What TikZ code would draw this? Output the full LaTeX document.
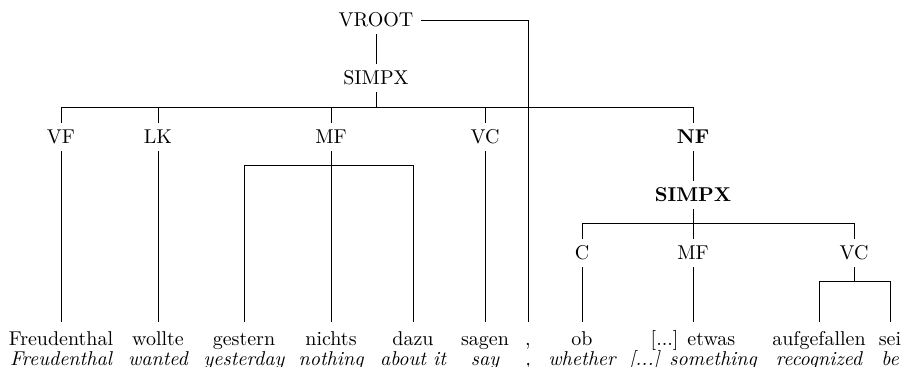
\documentclass[tikz,border=0pt]{standalone}
\begin{document}
\begin{tikzpicture}[x=0.5pt,y=-0.5pt,
  lbl/.style={inner sep=3.5pt, text height=6.83pt, text depth=0pt},
  word/.style={anchor=base, inner sep=3.5pt, text height=8pt, text depth=0pt},
  gloss/.style={anchor=base, font=\itshape, inner sep=0pt},
  edge/.style={draw=black, line width=0.5pt}]
\useasboundingbox (0,0) rectangle (903,366);
% phrase labels
\node[lbl] (VROOT) at (376,20) {VROOT};
\node[lbl] (SIMPXa) at (376,78) {SIMPX};
\node[lbl] (VF) at (61,137) {VF};
\node[lbl] (LK) at (158,137) {LK};
\node[lbl] (MFa) at (331,137) {MF};
\node[lbl] (VCa) at (485,137) {VC};
\node[lbl] (NF) at (693,137) {\textbf{NF}};
\node[lbl] (SIMPXb) at (693,195) {\textbf{SIMPX}};
\node[lbl] (C) at (582,253) {C};
\node[lbl] (MFb) at (693,253) {MF};
\node[lbl] (VCb) at (854,253) {VC};
% words
\node[word] (w1) at (61,345) {Freudenthal};
\node[word] (w2) at (158,345) {wollte};
\node[word] (w3) at (244,345) {gestern};
\node[word] (w4) at (331,345) {nichts};
\node[word] (w5) at (413,345) {dazu};
\node[word] (w6) at (485,345) {sagen};
\node[word] (w7) at (528,345) {,};
\node[word] (w8) at (582,345) {ob};
\node[word] (w9) at (693,345) {[...] etwas};
\node[word] (w10) at (819,345) {aufgefallen};
\node[word] (w11) at (890,345) {sei};
% glosses
\node[gloss] (g1) at (61,365) {Freudenthal};
\node[gloss] (g2) at (158,365) {wanted};
\node[gloss] (g3) at (244,365) {yesterday};
\node[gloss] (g4) at (331,365) {nothing};
\node[gloss] (g5) at (413,365) {about it};
\node[gloss] (g6) at (485,365) {say};
\node[gloss] (g7) at (528,365) {,};
\node[gloss] (g8) at (582,365) {whether};
\node[gloss] (g9) at (693,365) {[...] something};
\node[gloss] (g10) at (819,365) {recognized};
\node[gloss] (g11) at (890,365) {be};
% bar points
\coordinate (b1) at (376,107);
\coordinate (b2) at (331,165);
\coordinate (b3) at (693,223);
\coordinate (b4) at (854,281);
% edges
\draw[edge] (VROOT.south) -- (SIMPXa.north);
\draw[edge] (VROOT.east) -| (w7.north);
\draw[edge] (SIMPXa.south) -- (b1);
\draw[edge] (b1) -| (VF.north);
\draw[edge] (b1) -| (NF.north);
\draw[edge] (LK.north) -- (LK.north |- b1);
\draw[edge] (MFa.north) -- (MFa.north |- b1);
\draw[edge] (VCa.north) -- (VCa.north |- b1);
\draw[edge] (VF.south) -- (w1.north);
\draw[edge] (LK.south) -- (w2.north);
\draw[edge] (VCa.south) -- (w6.north);
\draw[edge] (MFa.south) -- (b2);
\draw[edge] (b2) -| (w3.north);
\draw[edge] (b2) -| (w5.north);
\draw[edge] (b2) -- (w4.north);
\draw[edge] (NF.south) -- (SIMPXb.north);
\draw[edge] (SIMPXb.south) -- (b3);
\draw[edge] (b3) -| (C.north);
\draw[edge] (b3) -| (VCb.north);
\draw[edge] (b3) -- (MFb.north);
\draw[edge] (C.south) -- (w8.north);
\draw[edge] (MFb.south) -- (w9.north);
\draw[edge] (VCb.south) -- (b4);
\draw[edge] (b4) -| (w10.north);
\draw[edge] (b4) -| (w11.north);
\end{tikzpicture}
\end{document}
